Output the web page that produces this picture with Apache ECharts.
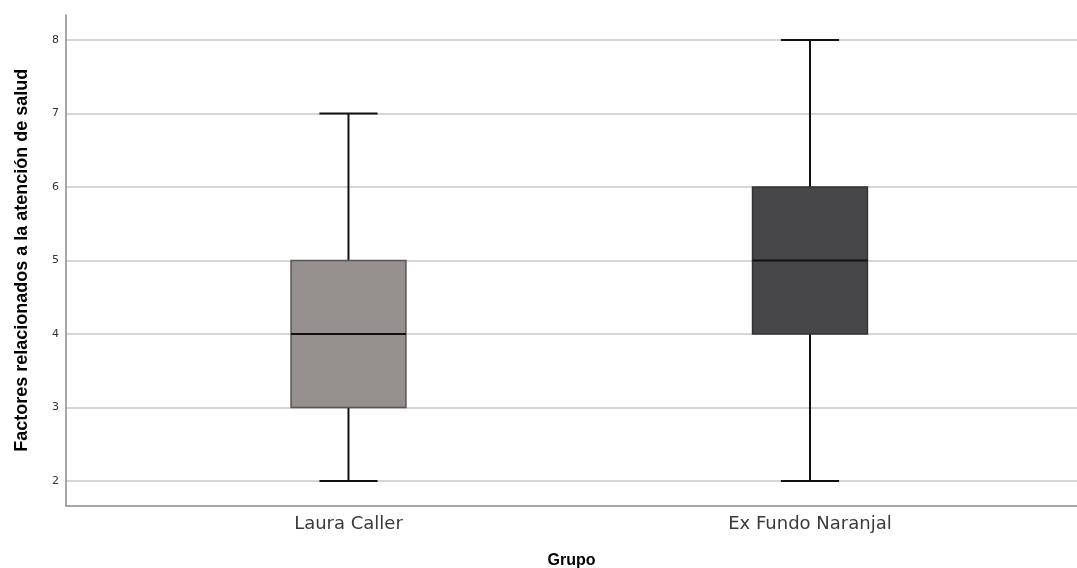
<!DOCTYPE html>
<html>
<head>
<meta charset="utf-8">
<script src="https://cdn.jsdelivr.net/npm/echarts@6/dist/echarts.min.js"></script>
<style>
html,body{margin:0;padding:0;background:#fff;}
#chart{width:1077px;height:568px;}
</style>
</head>
<body>
<div id="chart"></div>
<script>
// ---- data ----
const categories = ['Laura Caller', 'Ex Fundo Naranjal'];
const minVals = [2, 2];
const q1Vals = [3, 4];
const medianVals = [4, 5];
const q3Vals = [5, 6];
const maxVals = [7, 8];
const yAxisTitle = 'Factores relacionados a la atención de salud';
const xAxisTitle = 'Grupo';

const boxFills = ['#958f8e', '#474749'];
const boxBorders = ['#5a5656', '#333335'];

const seriesData = categories.map((c, i) => [i, minVals[i], q1Vals[i], medianVals[i], q3Vals[i], maxVals[i]]);

const chart = echarts.init(document.getElementById('chart'), null, {renderer: 'canvas'});

const option = {
  animation: false,
  grid: {left: 66, right: 0, top: 15, bottom: 62.5, containLabel: false, outerBoundsMode: 'none'},
  xAxis: {
    type: 'value',
    min: -0.6121,
    max: 1.5786,
    name: xAxisTitle,
    nameLocation: 'middle',
    nameGap: 47,
    nameTextStyle: {fontFamily: 'Liberation Sans', fontWeight: 'bold', fontSize: 16, color: '#000'},
    axisLine: {show: true, onZero: false, lineStyle: {color: '#8a8a8a', width: 1.5}},
    axisTick: {show: false},
    splitLine: {show: false},
    axisLabel: {
      customValues: [0, 1],
      formatter: v => categories[Math.round(v)] || '',
      fontFamily: 'DejaVu Sans',
      fontSize: 18,
      color: '#3a3a3a',
      margin: 10
    }
  },
  yAxis: {
    type: 'value',
    min: 1.667,
    max: 8.34,
    splitNumber: 6,
    name: yAxisTitle,
    nameLocation: 'middle',
    nameRotate: 90,
    nameGap: 35,
    nameTextStyle: {fontFamily: 'Liberation Sans', fontWeight: 'bold', fontSize: 18, color: '#000'},
    axisLine: {show: true, onZero: false, lineStyle: {color: '#8a8a8a', width: 1.5}},
    axisTick: {show: false},
    splitLine: {show: true, showMinLine: false, showMaxLine: false, lineStyle: {color: '#c8c8c8', width: 1.5}},
    axisLabel: {
      showMinLabel: false,
      showMaxLabel: false,
      fontFamily: 'DejaVu Sans',
      fontSize: 11,
      color: '#333',
      margin: 7
    }
  },
  series: [{
    type: 'custom',
    data: seriesData,
    encode: {x: 0, y: [1, 2, 3, 4, 5]},
    renderItem: function (params, api) {
      const x = api.value(0);
      const lo = api.coord([x, api.value(1)]);
      const q1 = api.coord([x, api.value(2)]);
      const md = api.coord([x, api.value(3)]);
      const q3 = api.coord([x, api.value(4)]);
      const hi = api.coord([x, api.value(5)]);
      const bw = api.size([0.249, 0])[0];
      const cw = api.size([0.126, 0])[0];
      const cx = lo[0];
      const i = params.dataIndex;
      const wStyle = {stroke: '#111', lineWidth: 2};
      return {
        type: 'group',
        children: [
          {type: 'line', shape: {x1: cx, y1: lo[1], x2: cx, y2: q1[1]}, style: wStyle},
          {type: 'line', shape: {x1: cx, y1: q3[1], x2: cx, y2: hi[1]}, style: wStyle},
          {type: 'line', shape: {x1: cx - cw / 2, y1: lo[1], x2: cx + cw / 2, y2: lo[1]}, style: wStyle},
          {type: 'line', shape: {x1: cx - cw / 2, y1: hi[1], x2: cx + cw / 2, y2: hi[1]}, style: wStyle},
          {type: 'rect', shape: {x: cx - bw / 2, y: q3[1], width: bw, height: q1[1] - q3[1]},
            style: {fill: boxFills[i], stroke: boxBorders[i], lineWidth: 1.5}},
          {type: 'line', shape: {x1: cx - bw / 2, y1: md[1], x2: cx + bw / 2, y2: md[1]}, style: {stroke: '#111', lineWidth: 2}}
        ]
      };
    }
  }]
};
chart.setOption(option);
</script>
</body>
</html>
